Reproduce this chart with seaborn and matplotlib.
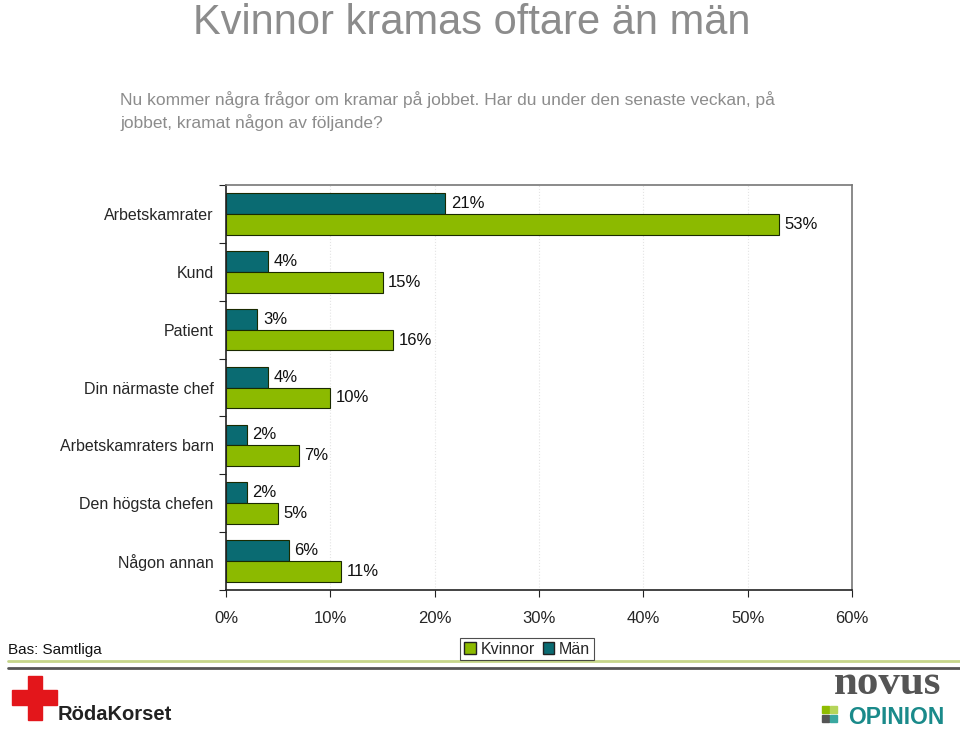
import pandas as pd
import matplotlib.pyplot as plt
import seaborn as sns
from matplotlib.patches import Rectangle
from matplotlib.lines import Line2D
from matplotlib.ticker import FuncFormatter

# Data (percent)
categories = ["Arbetskamrater", "Kund", "Patient", "Din närmaste chef",
              "Arbetskamraters barn", "Den högsta chefen", "Någon annan"]
man = [21, 4, 3, 4, 2, 2, 6]
kvinnor = [53, 15, 16, 10, 7, 5, 11]

GREEN = "#8cba00"
TEAL = "#0a6b72"
GRAY_TXT = "#8c8c8c"

df = pd.DataFrame({
    "Kategori": categories * 2,
    "Andel": man + kvinnor,
    "Grupp": ["Män"] * len(man) + ["Kvinnor"] * len(kvinnor),
})

sns.set_style("white")
plt.rcParams["font.family"] = ["Liberation Sans", "DejaVu Sans"]

W, H = 960, 731
fig = plt.figure(figsize=(W / 100, H / 100), dpi=100)


def px(x, y):
    return x / W, 1 - y / H


ax = fig.add_axes([226 / W, 1 - 590 / H, 626 / W, 405 / H])
sns.barplot(data=df, y="Kategori", x="Andel", hue="Grupp",
            hue_order=["Män", "Kvinnor"], order=categories,
            palette={"Män": TEAL, "Kvinnor": GREEN}, orient="h",
            width=0.72, saturation=1, edgecolor="#1a2a00", linewidth=0.8,
            ax=ax, legend=False)

for cont in ax.containers:
    ax.bar_label(cont, labels=[f"{v:.0f}%" for v in cont.datavalues],
                 padding=4, fontsize=12, color="#111111")

ax.set_xlim(0, 60)
ax.set_ylim(len(categories) - 0.5, -0.5)
ax.set_xticks(range(0, 61, 10))
ax.xaxis.set_major_formatter(FuncFormatter(lambda v, p: f"{v:.0f}%"))
ax.set_yticks([i - 0.5 for i in range(len(categories) + 1)], minor=False)
ax.set_yticklabels([])
ax.set_yticks(range(len(categories)), minor=True)
ax.set_yticklabels(categories, minor=True)
ax.tick_params(axis="y", which="minor", length=0, pad=9, labelsize=11.5)
ax.tick_params(axis="y", which="major", length=5, direction="out", left=True, color="#222222")
ax.tick_params(axis="x", length=5, direction="out", bottom=True, pad=10,
               labelsize=12, color="#222222")
ax.set_xlabel("")
ax.set_ylabel("")
for x in range(10, 60, 10):
    ax.axvline(x, color="#e4e4e4", lw=0.8, ls=":", zorder=0)
ax.spines["left"].set_color("#222222")
ax.spines["bottom"].set_color("#222222")
ax.spines["top"].set_color("#777777")
ax.spines["right"].set_color("#777777")
for s in ax.spines.values():
    s.set_linewidth(1.2)

# Legend
handles = [Rectangle((0, 0), 1, 1, facecolor=GREEN, edgecolor="#222222"),
           Rectangle((0, 0), 1, 1, facecolor=TEAL, edgecolor="#222222")]
leg = fig.legend(handles, ["Kvinnor", "Män"], loc="center",
                 bbox_to_anchor=px(527, 649), ncol=2, fontsize=11.5,
                 frameon=True, fancybox=False, edgecolor="#222222",
                 handlelength=0.7, handleheight=0.7, handletextpad=0.3,
                 columnspacing=0.5, borderpad=0.25, borderaxespad=0)
leg.get_frame().set_linewidth(0.8)

# Titles
fig.text(*px(472, 34), "Kvinnor kramas oftare än män", ha="center", va="baseline",
         fontsize=30, color=GRAY_TXT,
         family=["Liberation Sans Narrow", "Liberation Sans", "DejaVu Sans"])
fig.text(*px(120, 100), "Nu kommer några frågor om kramar på jobbet. Har du under den senaste veckan, på",
         ha="left", va="center", fontsize=12.5, color=GRAY_TXT)
fig.text(*px(120, 123), "jobbet, kramat någon av följande?",
         ha="left", va="center", fontsize=12.5, color=GRAY_TXT)
fig.text(*px(8, 650), "Bas: Samtliga", ha="left", va="center", fontsize=11, color="#111111")

# Footer lines
fig.add_artist(Line2D([8 / W, 1], [1 - 661 / H] * 2, color="#c5d58a", lw=2))
fig.add_artist(Line2D([8 / W, 1], [1 - 668 / H] * 2, color="#555555", lw=2))

# Röda Korset logo
tf = fig.transFigure
fig.add_artist(Rectangle(px(28, 720), 14 / W, 44 / H, color="#e3161b", transform=tf))
fig.add_artist(Rectangle(px(12, 705), 45 / W, 15 / H, color="#e3161b", transform=tf))
fig.text(*px(58, 720), "RödaKorset", ha="left", va="baseline", fontsize=14.5,
         fontweight="bold", color="#222222")

# Novus Opinion logo
fig.text(*px(888, 694), "novus", ha="center", va="baseline", fontsize=31,
         fontweight="bold", color="#555555",
         family=["Liberation Serif", "DejaVu Serif"])
for (x0, y0, c) in [(822, 706, "#8fbc00"), (830, 706, "#b5d55a"),
                    (822, 715, "#555555"), (830, 715, "#3aa8a0")]:
    fig.add_artist(Rectangle(px(x0, y0 + 7), 7 / W, 7 / H, color=c, transform=tf))
fig.text(*px(896, 724), "OPINION", ha="center", va="baseline", fontsize=16.5,
         fontweight="bold", color="#1a8a8a")

fig.savefig("out.png", dpi=100)
